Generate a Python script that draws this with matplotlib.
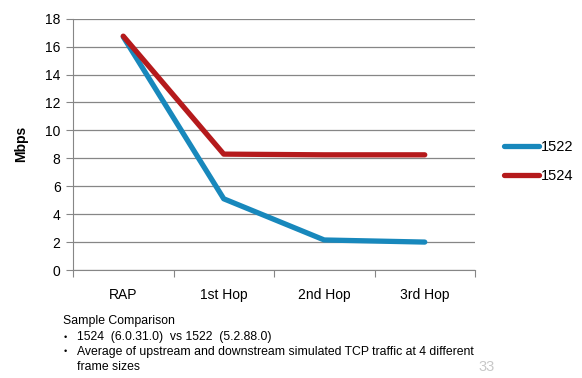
import numpy as np
import matplotlib.pyplot as plt

plt.rcParams['font.family'] = ['Liberation Sans', 'DejaVu Sans']

hops = ['RAP', '1st Hop', '2nd Hop', '3rd Hop']
mbps_1522 = [16.7, 5.1, 2.15, 2.0]
mbps_1524 = [16.75, 8.3, 8.25, 8.25]

fig = plt.figure(figsize=(5.82, 3.78), dpi=100)
ax = fig.add_axes([73 / 582, 1 - 270 / 378, (475 - 73) / 582, (270 - 18.7) / 378])

x = np.arange(len(hops))
ax.plot(x, mbps_1522, color='#1888BC', lw=3.8, solid_capstyle='round', label='1522')
ax.plot(x, mbps_1524, color='#B51A1C', lw=3.8, solid_capstyle='round', label='1524')

ax.set_xlim(-0.5, len(hops) - 0.5)
ax.set_ylim(0, 18)
ax.set_yticks(range(0, 19, 2))
ax.set_xticks(np.arange(-0.5, len(hops), 1.0))
ax.set_xticklabels([])
ax.set_xticks(x, minor=True)
ax.set_xticklabels(hops, minor=True)
ax.tick_params(axis='x', which='minor', length=0, pad=13, labelsize=10)
ax.tick_params(axis='x', which='major', length=5, color='#868686')
ax.tick_params(axis='y', length=5, color='#868686', labelsize=10, pad=4)
ax.yaxis.grid(True, color='#868686', lw=0.9)
ax.set_axisbelow(True)
for s in ['top', 'right']:
    ax.spines[s].set_visible(False)
for s in ['left', 'bottom']:
    ax.spines[s].set_color('#868686')
ax.set_ylabel('Mbps', fontsize=10, fontweight='bold', labelpad=12)

ax.legend(loc='upper left', bbox_to_anchor=(1.04, 0.57), frameon=False,
          fontsize=10.5, handlelength=2.4, handletextpad=0.1, labelspacing=1.05)

fs = 8.8
fig.text(63 / 582, 1 - 321 / 378, 'Sample Comparison', fontsize=fs, va='center')
fig.text(64 / 582, 1 - 337 / 378, '•', fontsize=6.5, va='center')
fig.text(77 / 582, 1 - 337 / 378, '1524  (6.0.31.0)  vs 1522  (5.2.88.0)', fontsize=fs, va='center')
fig.text(64 / 582, 1 - 352 / 378, '•', fontsize=6.5, va='center')
fig.text(77 / 582, 1 - 352 / 378,
         'Average of upstream and downstream simulated TCP traffic at 4 different',
         fontsize=fs, va='center')
fig.text(77 / 582, 1 - 367 / 378, 'frame sizes', fontsize=fs, va='center')
fig.text(495 / 582, 1 - 367 / 378, '33', fontsize=10.5, color='#C8C8C8', va='center', ha='right')

fig.savefig('out.png', dpi=100)
